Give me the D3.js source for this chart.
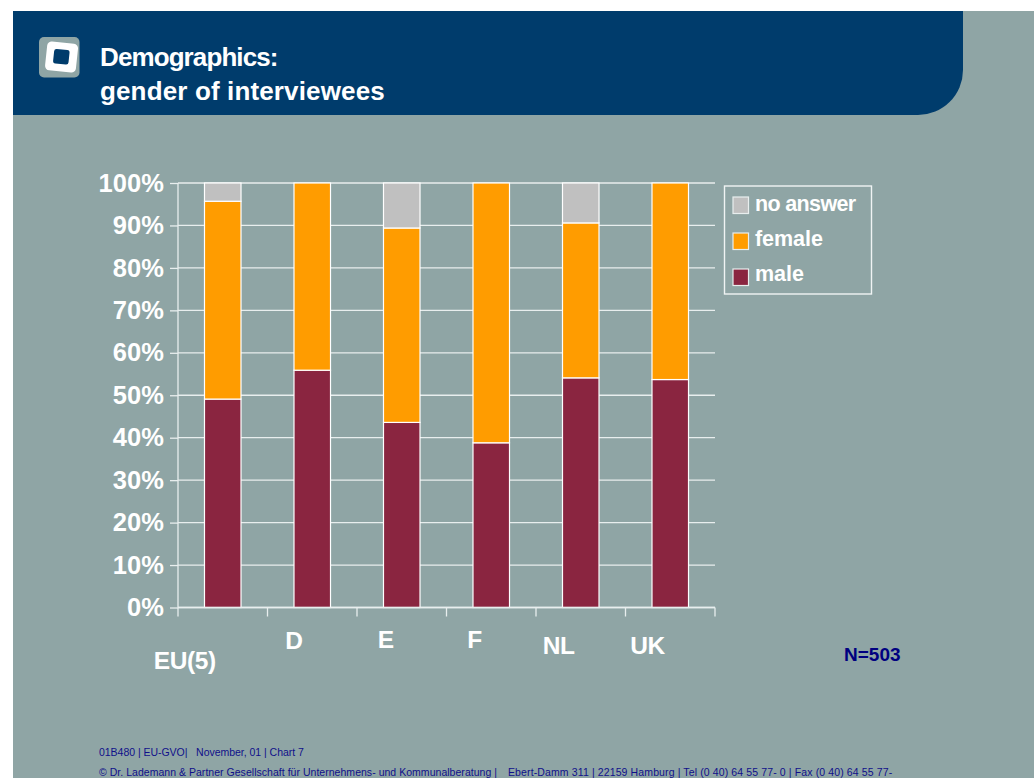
<!DOCTYPE html>
<html><head><meta charset="utf-8">
<script src="https://cdnjs.cloudflare.com/ajax/libs/d3/7.8.5/d3.min.js"></script>
<style>html,body{margin:0;padding:0;background:#fff;overflow:hidden}svg{display:block}text{font-family:"Liberation Sans",Arial,sans-serif}</style>
</head><body><div id="c"></div>
<script>
const categories = ["EU(5)", "D", "E", "F", "NL", "UK"];
const male = [49.1, 55.9, 43.6, 38.8, 54.1, 53.7];
const female = [46.6, 44.1, 45.8, 61.2, 36.5, 46.3];
const noAnswer = [4.3, 0, 10.6, 0, 9.4, 0];
const seriesNames = ["male", "female", "no answer"];
const yTicks = [0, 10, 20, 30, 40, 50, 60, 70, 80, 90, 100];
const legendOrder = ["no answer", "female", "male"];
const labelShift = {"EU(5)": [-69, 44], "D": [-27, 25], "E": [-24, 24], "F": [-24, 24], "NL": [-38, 30], "UK": [-40, 30]};

const W = 1034, H = 778;
const colors = {"male": "#8a2540", "female": "#ff9c00", "no answer": "#c0c0c0"};
const bg = "#8fa5a5", navy = "#003c6c", line = "#e8eeee", white = "#ffffff", ink = "#000080";

const svg = d3.select("#c").append("svg").attr("width", W).attr("height", H);
svg.append("rect").attr("x", 13).attr("y", 11).attr("width", W - 13).attr("height", H - 11).attr("fill", bg);
svg.append("path").attr("fill", navy)
  .attr("d", "M13,11H963V70A45,45 0 0 1 918,115H13Z");

// logo
svg.append("rect").attr("x", 39).attr("y", 37).attr("width", 40.5).attr("height", 40.5).attr("rx", 5).attr("fill", bg);
const logo = svg.append("g").attr("transform", "translate(61.5,57.5) rotate(6)");
logo.append("rect").attr("x", -15.5).attr("y", -15).attr("width", 31).attr("height", 29).attr("rx", 4.5).attr("fill", white);
logo.append("rect").attr("x", -8).attr("y", -8).attr("width", 15.5).attr("height", 14.5).attr("rx", 2.5).attr("fill", navy);

svg.append("text").attr("x", 100).attr("y", 66).attr("fill", white).attr("font-size", 26).attr("font-weight", "bold").attr("letter-spacing", -0.9).text("Demographics:");
svg.append("text").attr("x", 100).attr("y", 100).attr("fill", white).attr("font-size", 26).attr("font-weight", "bold").attr("letter-spacing", 0.14).text("gender of interviewees");

const x = d3.scaleBand().domain(categories).range([178, 715]).paddingInner(0.592).paddingOuter(0.296);
const y = d3.scaleLinear().domain([0, 100]).range([607.5, 183]);

// grid
svg.append("g").selectAll("line").data(yTicks).join("line")
  .attr("x1", 178).attr("x2", 715).attr("y1", d => y(d)).attr("y2", d => y(d))
  .attr("stroke", line).attr("stroke-width", 1.3);

// stacked bars
const rows = categories.map((c, i) => ({cat: c, "male": male[i], "female": female[i], "no answer": noAnswer[i]}));
const stacked = d3.stack().keys(seriesNames)(rows);
svg.append("g").selectAll("g").data(stacked).join("g").attr("fill", d => colors[d.key])
  .selectAll("rect").data(d => d.filter(p => p[1] > p[0])).join("rect")
  .attr("x", d => x(d.data.cat)).attr("width", x.bandwidth())
  .attr("y", d => y(d[1])).attr("height", d => y(d[0]) - y(d[1]))
  .attr("stroke", white).attr("stroke-width", 1.2);

// y axis
const yAxis = svg.append("g").attr("transform", "translate(178,0)")
  .call(d3.axisLeft(y).tickValues(yTicks).tickFormat(d => d + "%").tickSize(8).tickPadding(6));
yAxis.selectAll("path").attr("stroke", line).attr("stroke-width", 1.3).attr("d", "M0,183V607.5");
yAxis.selectAll("line").attr("stroke", line).attr("stroke-width", 1.3);
yAxis.selectAll("text").attr("fill", white).attr("font-size", 25.5).attr("font-weight", "bold").attr("letter-spacing", 0.1).attr("font-family", '"Liberation Sans",Arial,sans-serif');

// x axis: ticks between categories, labels nudged as in the source
const bandEdges = d3.range(categories.length + 1).map(i => 178 + i * x.step());
const xLine = svg.append("g");
xLine.append("line").attr("x1", 178).attr("x2", 715).attr("y1", 607.5).attr("y2", 607.5).attr("stroke", line).attr("stroke-width", 1.3);
xLine.selectAll("line.t").data(bandEdges).join("line").attr("class", "t")
  .attr("x1", d => d).attr("x2", d => d).attr("y1", 607.5).attr("y2", 616.5)
  .attr("stroke", line).attr("stroke-width", 1.3);
xLine.selectAll("text").data(categories).join("text")
  .attr("x", d => x(d) + x.bandwidth() / 2 + labelShift[d][0])
  .attr("y", d => 607.5 + labelShift[d][1] + (d === "EU(5)" ? 17 : 16))
  .attr("fill", white).attr("font-size", 24.5).attr("font-weight", "bold")
  .attr("letter-spacing", d => d === "EU(5)" ? -0.4 : -0.5)
  .attr("text-anchor", "start").text(d => d);

// legend
svg.append("rect").attr("x", 724.5).attr("y", 186).attr("width", 147).attr("height", 108).attr("fill", "none").attr("stroke", "#f0f4f4").attr("stroke-width", 1.4);
const legendRow = d3.scalePoint().domain(legendOrder).range([205, 277]);
const legendText = d3.scalePoint().domain(legendOrder).range([211, 281]);
const lg = svg.append("g").selectAll("g").data(legendOrder).join("g");
lg.append("rect").attr("x", 733).attr("y", d => legendRow(d) - 8).attr("width", 15.5).attr("height", 16.5)
  .attr("fill", d => colors[d]).attr("stroke", "#e8eeee").attr("stroke-width", 1.2);
lg.append("text").attr("x", 755).attr("y", d => legendText(d)).attr("fill", white)
  .attr("font-size", 21.5).attr("font-weight", "bold").attr("letter-spacing", d => d === "no answer" ? -0.65 : -0.05).text(d => d);

svg.append("text").attr("x", 844).attr("y", 661).attr("fill", ink).attr("font-size", 19).attr("font-weight", "bold").text("N=503");

svg.append("text").attr("x", 99).attr("y", 756).attr("fill", "#10108a").attr("font-size", 10.5).attr("letter-spacing", -0.03).attr("xml:space", "preserve").text("01B480 | EU-GVO|   November, 01 | Chart 7");
svg.append("text").attr("x", 99).attr("y", 776).attr("fill", "#10108a").attr("font-size", 10.5).attr("letter-spacing", 0.03).text("© Dr. Lademann & Partner Gesellschaft für Unternehmens- und Kommunalberatung |");
svg.append("text").attr("x", 508).attr("y", 776).attr("fill", "#10108a").attr("font-size", 10.5).attr("letter-spacing", 0.12).text("Ebert-Damm 311 | 22159 Hamburg | Tel (0 40) 64 55 77- 0 | Fax (0 40) 64 55 77-");
</script></body></html>
